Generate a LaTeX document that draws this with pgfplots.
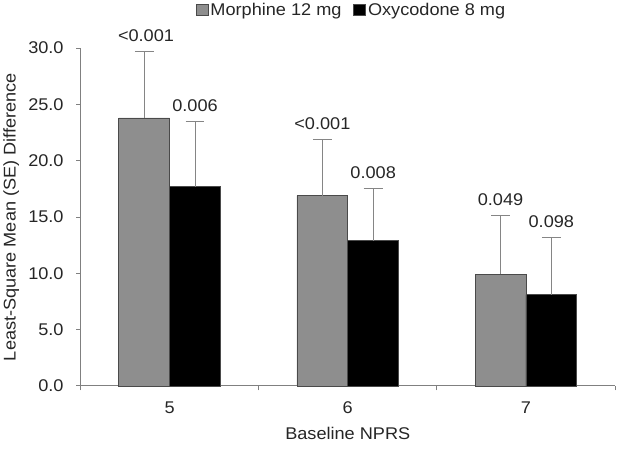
\documentclass[border=0pt]{standalone}
\usepackage{fontspec}
\setmainfont[FakeStretch=1.07]{Liberation Sans}
\usepackage{pgfplots}
\pgfplotsset{compat=1.18}
\definecolor{barGray}{HTML}{8E8E8E}
\definecolor{barEdge}{HTML}{4A4A4A}
\definecolor{axGray}{HTML}{808080}
\definecolor{errGray}{HTML}{858585}
\definecolor{txt}{HTML}{262626}
\begin{document}
\begin{tikzpicture}
\begin{axis}[
  scale only axis,
  width=536bp, height=338.7bp,
  font=\fontsize{17bp}{20bp}\selectfont,
  text=txt,
  xmin=-0.5, xmax=2.5,
  ymin=0, ymax=30,
  axis lines=left,
  axis line style={draw=axGray, line width=0.9pt, -},
  tick align=outside,
  tick style={draw=axGray, line width=0.9pt},
  major tick length=4.5bp,
  xtick={-0.5,0.5,1.5,2.5},
  x tick label as interval,
  xticklabels={5,6,7},
  xticklabel style={yshift=-8bp},
  ytick={0,5,10,15,20,25,30},
  yticklabel style={xshift=-9bp, /pgf/number format/.cd, fixed, fixed zerofill, precision=1, assume math mode=true},
  xlabel={Baseline NPRS},
  xlabel style={at={(axis description cs:0.5,0)}, anchor=center, yshift=-48bp},
  ylabel={Least-Square Mean (SE) Difference},
  ylabel style={at={(axis description cs:-0.1297,0.5)}, anchor=center, rotate=0},
  ybar, bar width=0.285,
  clip=false,
  legend columns=2,
  legend style={at={(axis description cs:0.507,1.113)}, anchor=center, draw=none, fill=none,
    /tikz/every even column/.append style={column sep=10bp}, inner sep=0pt},
  legend image code/.code={\draw[#1, draw=barEdge, line width=0.6pt] (0bp,-5.5bp) rectangle (12bp,6bp);},
]
\addplot[fill=barGray, draw=barEdge, line width=0.8pt, bar shift=-0.1425,
  error bars/.cd, y dir=plus, y explicit, error mark=|,
  error bar style={draw=errGray, line width=1pt},
  error mark options={draw=errGray, line width=1pt, mark size=9.5bp}]
  coordinates {(0,23.8) +- (0,5.9) (1,16.9) +- (0,5.0) (2,9.9) +- (0,5.2)};
\addlegendentry{Morphine 12 mg}
\addplot[fill=black, draw=barEdge, line width=0.8pt, bar shift=0.1425,
  error bars/.cd, y dir=plus, y explicit, error mark=|,
  error bar style={draw=errGray, line width=1pt},
  error mark options={draw=errGray, line width=1pt, mark size=9.5bp}]
  coordinates {(0,17.7) +- (0,5.8) (1,12.9) +- (0,4.6) (2,8.1) +- (0,5.1)};
\addlegendentry{Oxycodone 8 mg}
\begin{scope}[every node/.style={anchor=base, inner sep=0pt, yshift=10bp, text=txt}]
\node at (axis cs:-0.1325,29.7) {<0.001};
\node at (axis cs:0.1425,23.5) {0.006};
\node at (axis cs:0.8575,21.9) {<0.001};
\node at (axis cs:1.1425,17.5) {0.008};
\node at (axis cs:1.8575,15.1) {0.049};
\node at (axis cs:2.1425,13.2) {0.098};
\end{scope}
\end{axis}
\path ([shift={(-79bp,-65bp)}]current axis.south west) rectangle ([shift={(3bp,48.3bp)}]current axis.north east);
\end{tikzpicture}
\end{document}
